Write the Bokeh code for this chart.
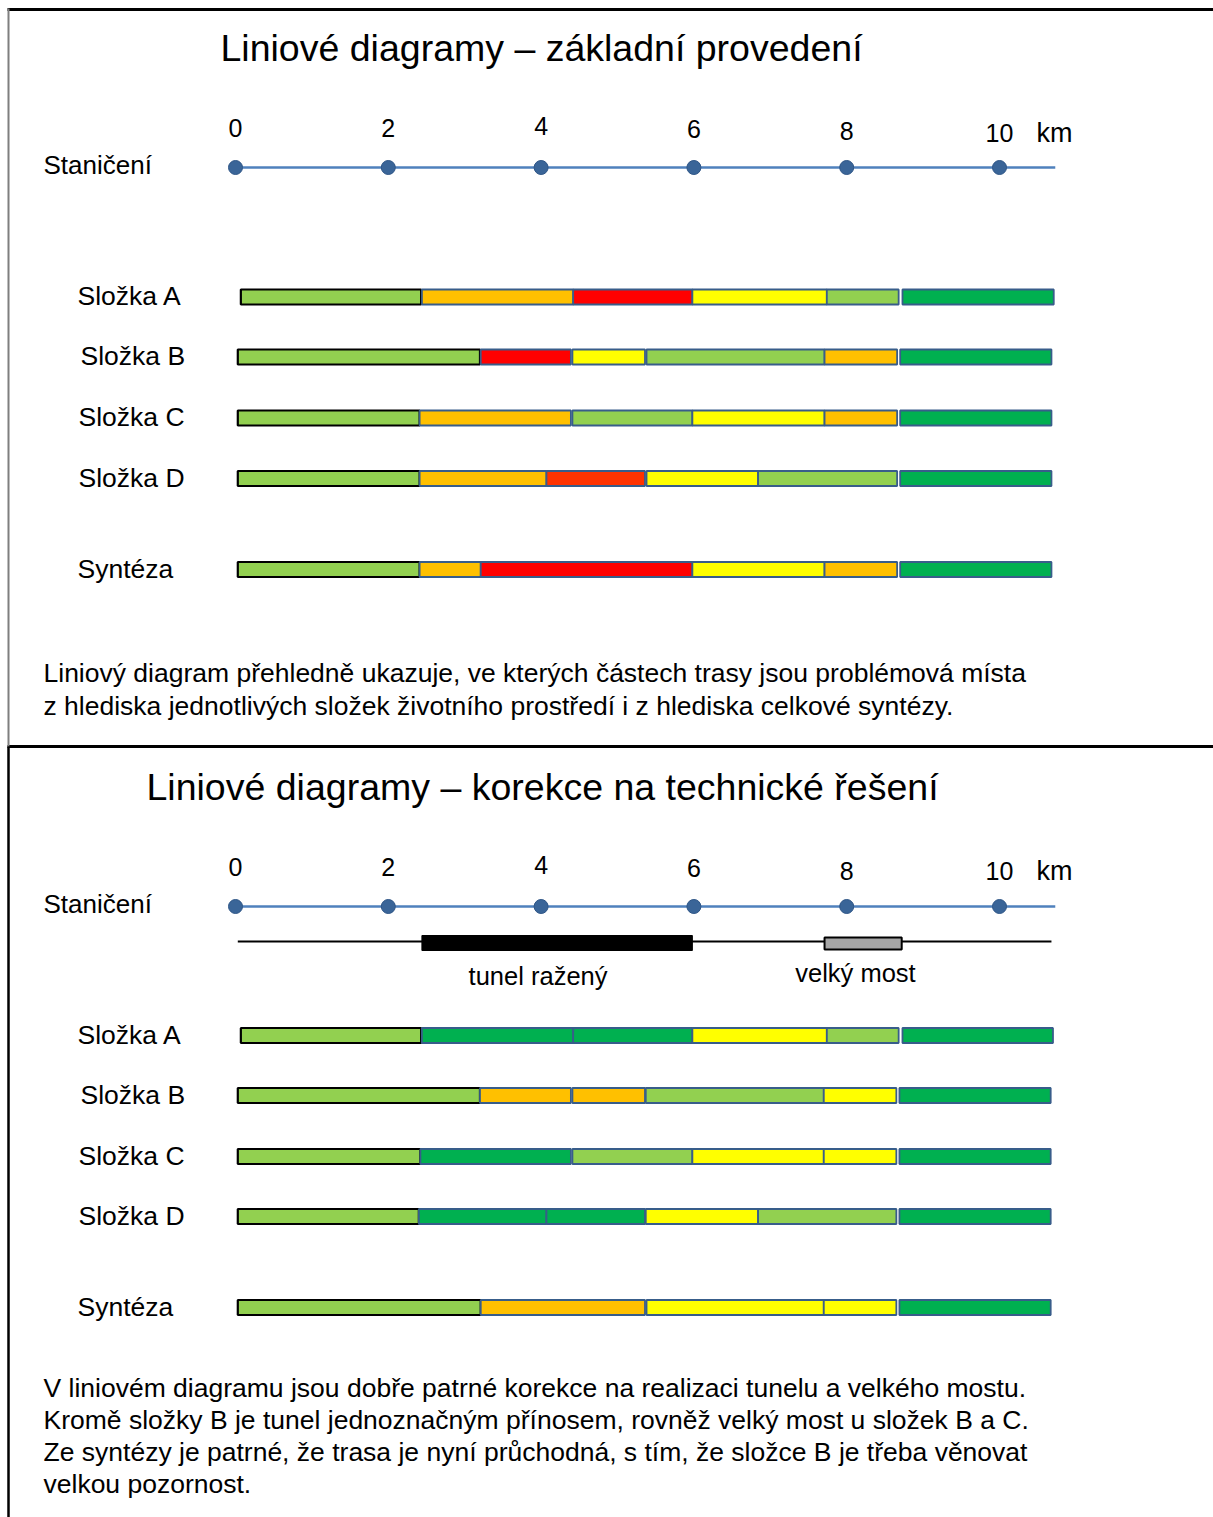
from bokeh.plotting import figure
from bokeh.models import Range1d, Label, ColumnDataSource
from bokeh.core.properties import value
from bokeh.embed import file_html
from bokeh.resources import INLINE

# ---------------- data ----------------
station_km = [0, 2, 4, 6, 8, 10]
tick_labels = ["0", "2", "4", "6", "8", "10"]
row_names = ["Složka A", "Složka B", "Složka C", "Složka D", "Syntéza"]

LG, DG, YE, OR, RD, ORR = "#92D050", "#00B050", "#FFFF00", "#FFC000", "#FF0000", "#FF3300"

# panel 1 – základní provedení (segment start/end in km, class colour)
p1_A_start = [0.07, 2.44, 4.42, 5.98, 7.74, 8.73]
p1_A_end = [2.43, 4.42, 5.98, 7.74, 8.68, 10.71]
p1_A_col = [LG, OR, RD, YE, LG, DG]
p1_B_start = [0.03, 3.21, 4.41, 5.38, 7.71, 8.70]
p1_B_end = [3.20, 4.39, 5.36, 7.71, 8.66, 10.68]
p1_B_col = [LG, RD, YE, LG, OR, DG]
p1_C_start = [0.03, 2.41, 4.41, 5.98, 7.71, 8.70]
p1_C_end = [2.41, 4.39, 5.98, 7.71, 8.66, 10.68]
p1_C_col = [LG, OR, LG, YE, OR, DG]
p1_D_start = [0.03, 2.41, 4.07, 5.38, 6.84, 8.70]
p1_D_end = [2.41, 4.07, 5.36, 6.84, 8.66, 10.68]
p1_D_col = [LG, OR, ORR, YE, LG, DG]
p1_S_start = [0.03, 2.41, 3.21, 5.98, 7.71, 8.70]
p1_S_end = [2.41, 3.21, 5.98, 7.71, 8.66, 10.68]
p1_S_col = [LG, OR, RD, YE, OR, DG]

# panel 2 – korekce na technické řešení
p2_A_start = [0.07, 2.44, 4.42, 5.98, 7.74, 8.73]
p2_A_end = [2.43, 4.42, 5.98, 7.74, 8.68, 10.70]
p2_A_col = [LG, DG, DG, YE, LG, DG]
p2_B_start = [0.03, 3.20, 4.41, 5.37, 7.70, 8.69]
p2_B_end = [3.20, 4.39, 5.36, 7.70, 8.65, 10.67]
p2_B_col = [LG, OR, OR, LG, YE, DG]
p2_C_start = [0.03, 2.42, 4.41, 5.98, 7.70, 8.69]
p2_C_end = [2.42, 4.39, 5.98, 7.70, 8.65, 10.67]
p2_C_col = [LG, DG, LG, YE, YE, DG]
p2_D_start = [0.03, 2.40, 4.07, 5.37, 6.84, 8.69]
p2_D_end = [2.40, 4.07, 5.36, 6.84, 8.65, 10.67]
p2_D_col = [LG, DG, DG, YE, LG, DG]
p2_S_start = [0.03, 3.21, 5.38, 7.70, 8.69]
p2_S_end = [3.21, 5.36, 7.70, 8.65, 10.67]
p2_S_col = [LG, OR, YE, YE, DG]

track_km = [0.03, 10.68]
tunnel_km = [2.44, 5.98]
bridge_km = [7.71, 8.72]
axis_end_km = 10.73

title1 = "Liniové diagramy – základní provedení"
title2 = "Liniové diagramy – korekce na technické řešení"
text1 = ["Liniový diagram přehledně ukazuje,  ve kterých částech trasy jsou problémová místa",
         "z hlediska jednotlivých složek životního prostředí i z hlediska celkové syntézy."]
text2 = ["V liniovém diagramu jsou dobře patrné korekce na realizaci  tunelu a velkého mostu.",
         "Kromě složky B je tunel jednoznačným přínosem, rovněž velký most u složek B a C.",
         "Ze syntézy je patrné, že trasa je nyní průchodná, s tím, že složce B je třeba věnovat",
         "velkou pozornost."]

# ---------------- layout ----------------
PX0, PXKM = 235.0, 76.4   # picture x of km 0, px per km


def px2km(px):
    return (px - PX0) / PXKM


FONT = value("Liberation Sans")
W, H = 1213, 1517

p = figure(width=W, height=H, x_range=Range1d(px2km(0), px2km(W)),
           y_range=Range1d(H, 0), output_backend="svg", toolbar_location=None,
           x_axis_type=None, y_axis_type=None, min_border=0)
p.outline_line_color = None
p.background_fill_color = "white"
p.border_fill_color = "white"


def lbl(x, y, t, size="26.5px"):
    p.add_layout(Label(x=x, y=y, x_units="screen", y_units="data", text=t,
                       text_font="Liberation Sans", text_font_size=size,
                       text_baseline="middle", text_align="left", text_color="black"))


def panel(rows, row_y, label_x, axis_y, tick_y, title, title_x, title_y, texts, text_y):
    lbl(title_x, title_y, title, "37.5px")
    lbl(43, axis_y - 3, "Staničení", "26px")
    # station axis
    p.segment(x0=[0], y0=[axis_y], x1=[axis_end_km], y1=[axis_y], line_color="#4F81BD", line_width=2.5)
    p.scatter(station_km, [axis_y] * len(station_km), size=14, fill_color="#3A6598",
              line_color="#2F5687", line_width=1)
    p.text(x=station_km, y=tick_y, text=tick_labels, text_font=FONT, text_font_size="25px",
           text_align="center", text_baseline="middle", text_color="black")
    lbl(1036, tick_y[-1], "km", "27px")
    # bars
    L, R, T, B, C, LC, LW = [], [], [], [], [], [], []
    for (st, en, col), yc in zip(rows, row_y):
        for i, (a, b, c) in enumerate(zip(st, en, col)):
            L.append(a); R.append(b); C.append(c)
            T.append(yc - 7.5); B.append(yc + 7.5)
            LC.append("black" if i == 0 else "#385D8A")
            LW.append(2.2 if i == 0 else 1.8)
    src = ColumnDataSource(dict(left=L, right=R, top=T, bottom=B, fill=C, lc=LC, lw=LW))
    p.quad(left="left", right="right", top="top", bottom="bottom", fill_color="fill",
           line_color="lc", line_width="lw", source=src)
    for name, yc, lx in zip(row_names, row_y, label_x):
        lbl(lx, yc - 1, name)
    for t, ty in zip(texts, text_y):
        lbl(43, ty, t, "26.5px")


rows1 = [(p1_A_start, p1_A_end, p1_A_col), (p1_B_start, p1_B_end, p1_B_col),
         (p1_C_start, p1_C_end, p1_C_col), (p1_D_start, p1_D_end, p1_D_col),
         (p1_S_start, p1_S_end, p1_S_col)]
rows2 = [(p2_A_start, p2_A_end, p2_A_col), (p2_B_start, p2_B_end, p2_B_col),
         (p2_C_start, p2_C_end, p2_C_col), (p2_D_start, p2_D_end, p2_D_col),
         (p2_S_start, p2_S_end, p2_S_col)]

panel(rows1, [296.5, 356.5, 417.5, 478, 569], [77, 80, 78, 78, 77], 167,
      [127, 127, 125, 128, 130, 132], title1, 220, 47, text1, [672, 705])
panel(rows2, [1035, 1095, 1156, 1216, 1307], [77, 80, 78, 78, 77], 906,
      [866, 866, 864, 867, 870, 870], title2, 146, 786, text2, [1387, 1419, 1451, 1483])

# technical structures (panel 2)
p.segment(x0=[track_km[0]], y0=[941], x1=[track_km[1]], y1=[941], line_color="black", line_width=2)
p.quad(left=[tunnel_km[0]], right=[tunnel_km[1]], top=[935], bottom=[950],
       fill_color="black", line_color="black", line_width=1)
p.quad(left=[bridge_km[0]], right=[bridge_km[1]], top=[937], bottom=[949],
       fill_color="#A6A6A6", line_color="black", line_width=2)
p.text(x=[(tunnel_km[0] + tunnel_km[1]) / 2 - 0.25, (bridge_km[0] + bridge_km[1]) / 2 - 0.1],
       y=[975, 972], text=["tunel ražený", "velký most"], text_font=FONT,
       text_font_size="25.5px", text_align="center", text_baseline="middle", text_color="black")

# frame lines
p.segment(x0=[px2km(7)], y0=[9], x1=[px2km(W)], y1=[9], line_color="black", line_width=3)
p.segment(x0=[px2km(7)], y0=[746], x1=[px2km(W)], y1=[746], line_color="black", line_width=3)
p.segment(x0=[px2km(8)], y0=[8], x1=[px2km(8)], y1=[746], line_color="#7F7F7F", line_width=2)
p.segment(x0=[px2km(8)], y0=[746], x1=[px2km(8)], y1=[H], line_color="black", line_width=2.5)

open("out.html", "w").write(file_html(p, INLINE))
